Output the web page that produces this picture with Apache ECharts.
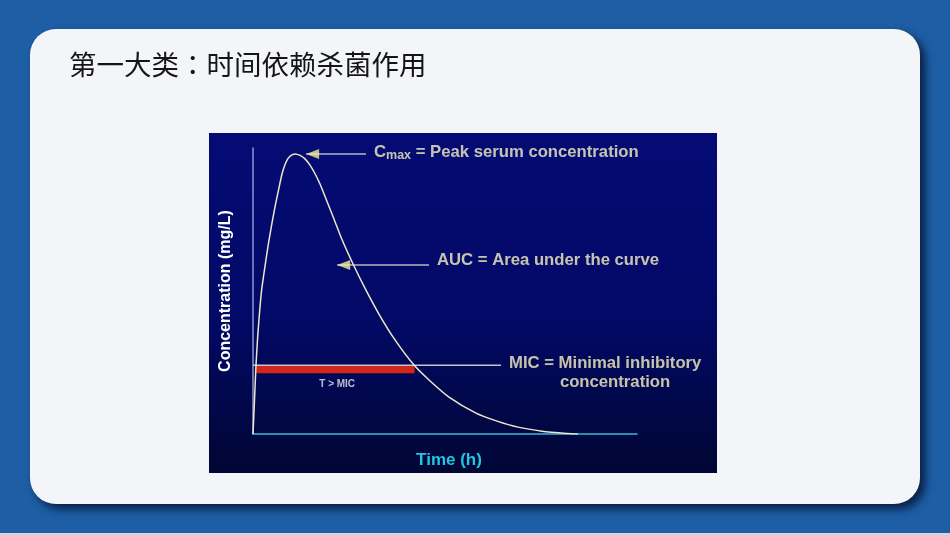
<!DOCTYPE html>
<html>
<head>
<meta charset="utf-8">
<script src="https://cdn.jsdelivr.net/npm/echarts@6/dist/echarts.min.js"></script>
<style>
html,body{margin:0;padding:0;background:#1e5ea5;}
#chart{width:950px;height:535px;}
</style>
</head>
<body>
<div id="chart"></div>
<script>
// ---- data ----
var titleParts = ['第一大类', '：', '时间依赖杀菌作用'];
var time = [0, 0.047, 0.094, 0.144, 0.203, 0.269, 0.344, 0.422, 0.5, 0.594, 0.688, 0.797, 0.906, 0.984, 1.063, 1.156, 1.234, 1.313,
            1.469, 1.625, 1.781, 1.938, 2.094, 2.313, 2.531, 2.781, 3.141, 3.531, 3.953, 4.438, 5.031, 5.5, 6.125, 6.969, 7.625, 8.281, 9.031, 9.813, 10.156];
var conc = [0, 1.19, 2.41, 3.36, 4.23, 5.03, 5.63, 6.22, 6.78, 7.38, 7.94, 8.53, 9.09, 9.37, 9.58, 9.71, 9.77, 9.79,
            9.74, 9.62, 9.40, 9.10, 8.74, 8.13, 7.52, 6.80, 5.91, 5.03, 4.16, 3.29, 2.41, 1.89, 1.29, 0.73, 0.45, 0.24, 0.10, 0.02, 0];
var micValue = 2.4;
var micLineEnd = 7.75;
var tAboveMic = [0.1, 5.05];
var barDepth = 0.28;
// annotation anchors [t, c]
var cmaxArrow = [[1.66, 9.79], [3.53, 9.79]];
var aucArrow = [[2.63, 5.91], [5.5, 5.91]];
var cmaxLabelAt = [3.78, 9.86];
var aucLabelAt = [5.75, 6.06];
var micLabel1At = [8.0, 2.48];
var micLabel2At = [9.59, 1.82];
var tmicLabelAt = [2.63, 1.75];
var xName = 'Time (h)';
var yName = 'Concentration (mg/L)';

var curve = time.map(function (t, i) { return [t, conc[i]]; });
var FONT = 'Arial, "Liberation Sans", sans-serif';
var TXT = '#f7f3bf';

var chart = echarts.init(document.getElementById('chart'));
var option = {
  backgroundColor: '#1e5ea5',
  animation: false,
  graphic: [
    { type: 'rect', z: -20, shape: { x: 0, y: 533, width: 950, height: 2 }, style: { fill: '#c9d9ec' } },
    { type: 'rect', z: -20, shape: { x: 30, y: 29, width: 890, height: 475, r: 26 },
      style: { fill: '#f3f5f8', shadowBlur: 9, shadowOffsetX: 5, shadowOffsetY: 5, shadowColor: 'rgba(5,20,50,0.85)' } },
    { type: 'rect', z: -19, shape: { x: 209, y: 133, width: 508, height: 340 },
      style: { fill: new echarts.graphic.LinearGradient(0, 0, 0, 1, [
        { offset: 0, color: '#040b74' }, { offset: 0.55, color: '#020966' }, { offset: 1, color: '#000633' }]) } },
    { type: 'text', z: -18, left: 69, top: 51,
      style: {
        text: '{a|' + titleParts[0] + '}{b|' + titleParts[1] + '}{a|' + titleParts[2] + '}',
        rich: {
          a: { font: '27.5px "Noto Sans CJK SC", sans-serif', fill: '#151515' },
          b: { font: '27.5px "Noto Sans CJK TC", sans-serif', fill: '#151515' }
        }
      } }
  ],
  grid: { left: 253, top: 148, right: 313, bottom: 101, containLabel: false },
  xAxis: {
    type: 'value', min: 0, max: 12,
    axisLine: { show: true, onZero: false, lineStyle: { color: '#3cb6d6', width: 1.5 } },
    axisTick: { show: false }, axisLabel: { show: false }, splitLine: { show: false },
    name: xName, nameLocation: 'middle', nameGap: 18,
    nameTextStyle: { color: '#22c6e0', fontSize: 17, fontWeight: 'bold', fontFamily: FONT, padding: [0, 0, 0, 8] }
  },
  yAxis: {
    type: 'value', min: 0, max: 10,
    axisLine: { show: true, onZero: false, lineStyle: { color: '#8e97cf', width: 1.5 } },
    axisTick: { show: false }, axisLabel: { show: false }, splitLine: { show: false },
    name: yName, nameLocation: 'middle', nameGap: 19,
    nameTextStyle: { color: '#ffffff', fontSize: 16, fontWeight: 'bold', fontFamily: FONT }
  },
  series: [
    { type: 'custom', silent: true, z: 3,
      data: [[tAboveMic[0], tAboveMic[1], micValue, micValue - barDepth]],
      renderItem: function (params, api) {
        var p0 = api.coord([api.value(0), api.value(2)]);
        var p1 = api.coord([api.value(1), api.value(3)]);
        return { type: 'rect', shape: { x: p0[0], y: p0[1], width: p1[0] - p0[0], height: p1[1] - p0[1] },
          style: { fill: '#d3261b' } };
      } },
    { type: 'line', z: 4, data: [[0, micValue], [micLineEnd, micValue]], showSymbol: false,
      lineStyle: { color: '#c4c4cc', width: 1.5 } },
    { type: 'line', z: 4, data: cmaxArrow, showSymbol: false, lineStyle: { color: '#b6b6c0', width: 1.5 } },
    { type: 'line', z: 4, data: aucArrow, showSymbol: false, lineStyle: { color: '#b6b6c0', width: 1.5 } },
    { type: 'line', z: 5, data: curve, smooth: 0.25, showSymbol: false,
      lineStyle: { color: '#ece8cc', width: 1.5 } },
    { type: 'scatter', z: 6, data: [cmaxArrow[0], aucArrow[0]],
      symbol: 'path://M0,5 L13,0 L13,10 Z', symbolSize: [13, 10], symbolOffset: ['50%', 0],
      itemStyle: { color: '#f4ec9c' } },
    { type: 'scatter', z: 7, symbolSize: 0, silent: true,
      data: [
        { value: cmaxLabelAt, label: { formatter: '{c|C}{s|max}{c| = Peak serum concentration}' } },
        { value: aucLabelAt, label: { formatter: '{c|AUC = Area under the curve}' } },
        { value: micLabel1At, label: { formatter: '{c|MIC = Minimal inhibitory}' } },
        { value: micLabel2At, label: { formatter: '{c|concentration}' } },
        { value: tmicLabelAt, label: { position: 'inside', formatter: '{t|T > MIC}' } }
      ],
      label: { show: true, position: 'right', distance: 0,
        rich: {
          c: { fontFamily: FONT, fontSize: 16.7, fontWeight: 'bold', color: TXT, lineHeight: 18 },
          s: { fontFamily: FONT, fontSize: 12.5, fontWeight: 'bold', color: TXT, lineHeight: 18, padding: [7, 0, 0, 0] },
          t: { fontFamily: FONT, fontSize: 10, fontWeight: 'bold', color: '#e8e8f0' }
        } } }
  ]
};
chart.setOption(option);
</script>
</body>
</html>
